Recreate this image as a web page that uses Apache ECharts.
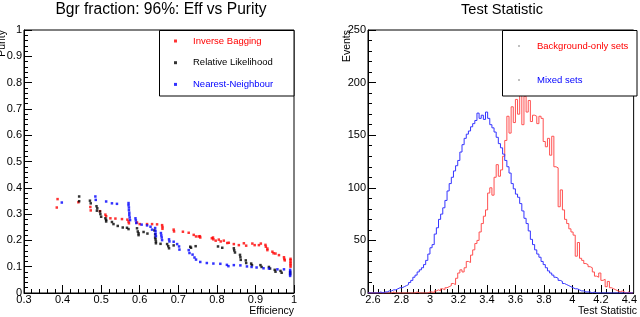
<!DOCTYPE html>
<html><head><meta charset="utf-8">
<script src="https://cdn.jsdelivr.net/npm/echarts@6/dist/echarts.min.js"></script>
<style>html,body{margin:0;padding:0;background:#fff}#c{width:640px;height:317px}</style>
</head><body><div id="c"></div>
<script>
const FONT = 'Liberation Sans, Arial, Helvetica, sans-serif';

// ---- Left panel: efficiency vs purity ----
const ibEff = [0.387,0.385,0.441,0.472,0.473,0.497,0.511,0.513,0.524,0.537,0.554,0.568,0.571,0.572,0.593,0.600,0.619,0.632,0.645,0.658,0.659,0.659,0.688,0.689,0.712,0.727,0.740,0.746,0.753,0.756,0.757,0.787,0.790,0.791,0.797,0.805,0.810,0.818,0.827,0.831,0.844,0.857,0.870,0.876,0.892,0.898,0.909,0.914,0.926,0.927,0.931,0.931,0.944,0.947,0.952,0.961,0.974,0.975,0.976,0.991,0.991,0.991,0.991,0.991,0.991];
const ibPur = [0.357,0.325,0.345,0.327,0.314,0.311,0.298,0.292,0.284,0.283,0.281,0.279,0.272,0.265,0.268,0.262,0.262,0.262,0.261,0.258,0.251,0.244,0.241,0.234,0.233,0.229,0.221,0.215,0.215,0.216,0.211,0.208,0.211,0.204,0.199,0.203,0.196,0.199,0.190,0.191,0.186,0.182,0.189,0.180,0.188,0.182,0.182,0.188,0.183,0.176,0.169,0.163,0.157,0.151,0.150,0.144,0.136,0.129,0.124,0.130,0.125,0.118,0.112,0.106,0.100];
const rlEff = [0.443,0.443,0.471,0.473,0.488,0.490,0.489,0.497,0.498,0.500,0.511,0.513,0.513,0.528,0.532,0.543,0.556,0.567,0.571,0.593,0.595,0.597,0.597,0.610,0.620,0.638,0.640,0.640,0.641,0.642,0.642,0.654,0.671,0.674,0.676,0.688,0.731,0.733,0.745,0.803,0.814,0.844,0.845,0.847,0.860,0.861,0.862,0.875,0.876,0.889,0.891,0.913,0.916,0.935,0.938,0.950,0.952,0.965,0.968,0.990,0.990];
const rlPur = [0.367,0.349,0.351,0.341,0.330,0.322,0.313,0.310,0.300,0.290,0.284,0.278,0.272,0.270,0.262,0.255,0.249,0.248,0.243,0.246,0.234,0.227,0.220,0.232,0.226,0.238,0.223,0.211,0.204,0.196,0.189,0.187,0.186,0.178,0.170,0.181,0.176,0.172,0.178,0.177,0.172,0.170,0.162,0.154,0.145,0.136,0.126,0.124,0.114,0.112,0.106,0.106,0.099,0.099,0.093,0.088,0.081,0.084,0.077,0.080,0.072];
const nnEff = [0.398,0.485,0.486,0.513,0.528,0.541,0.571,0.571,0.572,0.572,0.573,0.573,0.574,0.575,0.589,0.590,0.591,0.605,0.619,0.628,0.632,0.640,0.641,0.641,0.642,0.655,0.656,0.657,0.658,0.676,0.677,0.688,0.697,0.702,0.703,0.727,0.729,0.737,0.742,0.746,0.757,0.774,0.791,0.809,0.826,0.830,0.844,0.861,0.878,0.890,0.903,0.921,0.935,0.957,0.974,0.990,0.990,0.990,0.990];
const nnPur = [0.344,0.367,0.354,0.348,0.341,0.339,0.342,0.334,0.325,0.315,0.305,0.296,0.287,0.277,0.284,0.276,0.266,0.260,0.257,0.252,0.241,0.247,0.236,0.226,0.216,0.228,0.219,0.211,0.201,0.204,0.196,0.195,0.186,0.177,0.165,0.163,0.152,0.146,0.135,0.127,0.118,0.114,0.112,0.111,0.107,0.102,0.106,0.105,0.101,0.099,0.097,0.094,0.093,0.090,0.090,0.088,0.080,0.072,0.065];

// ---- Right panel: test statistic histograms ----
const binStart = 2.565;
const binWidth = 0.015;
const bgCounts = [
 0,0,0,0,0, 0,0,0,0,0, 0,1,0,0,0, 0,0,0,0,0, 0,0,1,0,0,
 0,0,0,1,1, 0,2,3,2,4, 3,5,6,7,9, 8,14,19,22,20, 24,30,29,36,41,
 47,50,58,66,73, 79,95,100,93,110, 122,111,117,130,145, 168,152,177,162,184,
 170,188,160,187,172, 183,163,169,168,161, 168,166,144,139,147, 131,149,120,119,82,
 98,79,70,66,61, 58,55,35,48,33, 31,28,27,25,24, 20,16,15,19,12,
 13,6,11,5,4, 3,2,1,2,1, 0,1,0,0];
const mixCounts = [
 0,0,0,0,0, 1,0,1,1,2, 2,3,3,4,5, 5,6,7,8,10, 12,15,17,20,22,
 24,27,31,37,43, 46,56,62,70,75, 81,88,97,104,110, 116,121,126,134,141, 147,151,154,158,161,
 164,171,166,169,165, 172,166,160,157,153, 148,142,138,132,126, 120,114,104,99,94,
 91,85,78,71,66, 59,51,46,41,37, 34,30,27,24,21, 19,17,15,14,12,
 11,9,8,7,6, 5,4,4,3,2, 2,1,1,1,0, 1,0,0,0,0,
 0,0,0,0,0, 0,0,0,0,0, 0,0,0,0];

// tick labels
const rightXTicks = [2.6,2.8,3,3.2,3.4,3.6,3.8,4,4.2,4.4];

const rightXMinor = [];
for (let i = 0; i < rightXTicks.length; i++) {
  for (let j = 1; j < 5; j++) {
    const v = +(rightXTicks[i] + j * 0.04).toFixed(3);
    if (v < 4.43) rightXMinor.push(v);
  }
}

function zip(a, b) { return a.map((v, i) => [v, b[i]]); }
function histSteps(counts) {
  const out = counts.map((c, i) => [+(binStart + i * binWidth).toFixed(4), c]);
  out.push([+(binStart + counts.length * binWidth).toFixed(4), counts[counts.length - 1]]);
  return out;
}

const tickLabel = { color: '#000', fontSize: 11, fontFamily: FONT };
const chart = echarts.init(document.getElementById('c'), null, { renderer: 'canvas' });
chart.setOption({
  animation: false,
  backgroundColor: '#fff',
  textStyle: { fontFamily: FONT },
  title: [
    { text: 'Bgr fraction: 96%: Eff vs Purity', left: 161, top: 2, textAlign: 'center', padding: 0,
      textStyle: { fontSize: 15.6, fontWeight: 'normal', color: '#000', fontFamily: FONT } },
    { text: 'Test Statistic', left: 502, top: 2, textAlign: 'center', padding: 0,
      textStyle: { fontSize: 14.6, fontWeight: 'normal', color: '#000', fontFamily: FONT } }
  ],
  grid: [
    { left: 24, right: 346, top: 30, bottom: 24, show: true, borderColor: '#000', borderWidth: 1, backgroundColor: 'transparent' },
    { left: 368, right: 3, top: 30, bottom: 24, show: true, borderColor: '#000', borderWidth: 1, backgroundColor: 'transparent' }
  ],
  xAxis: [
    { type: 'value', gridIndex: 0, min: 0.3, max: 1, interval: 0.1, position: 'bottom',
      axisLine: { onZero: false, lineStyle: { color: '#000' } },
      axisTick: { inside: true, length: 8, lineStyle: { color: '#000' } },
      minorTick: { show: true, splitNumber: 5, length: 4, lineStyle: { color: '#000' } },
      splitLine: { show: false },
      axisLabel: Object.assign({ margin: 1 }, tickLabel) },
    { type: 'value', gridIndex: 1, min: 2.565, max: 4.43, position: 'bottom',
      axisLine: { onZero: false, lineStyle: { color: '#000' } },
      axisTick: { inside: true, length: 8, customValues: rightXTicks, lineStyle: { color: '#000' } },
      splitLine: { show: false },
      axisLabel: Object.assign({ margin: 1, customValues: rightXTicks, showMaxLabel: true }, tickLabel) },
    { type: 'value', gridIndex: 1, min: 2.565, max: 4.43, position: 'bottom',
      axisLine: { show: false, onZero: false },
      axisTick: { inside: true, length: 4, customValues: rightXMinor, lineStyle: { color: '#000' } },
      splitLine: { show: false },
      axisLabel: { show: false } }
  ],
  yAxis: [
    { type: 'value', gridIndex: 0, min: 0, max: 1, interval: 0.1,
      axisLine: { show: true, onZero: false, lineStyle: { color: '#000' } },
      axisTick: { show: true, inside: true, length: 8, lineStyle: { color: '#000' } },
      minorTick: { show: true, splitNumber: 5, length: 4, lineStyle: { color: '#000' } },
      splitLine: { show: false },
      axisLabel: Object.assign({ margin: 2 }, tickLabel) },
    { type: 'value', gridIndex: 1, min: 0, max: 250, interval: 50,
      axisLine: { show: true, onZero: false, lineStyle: { color: '#000' } },
      axisTick: { show: true, inside: true, length: 8, lineStyle: { color: '#000' } },
      minorTick: { show: true, splitNumber: 5, length: 4, lineStyle: { color: '#000' } },
      splitLine: { show: false },
      axisLabel: Object.assign({ margin: 2 }, tickLabel) }
  ],
  legend: [
    { orient: 'vertical', left: 174, top: 35, padding: 0, itemGap: 9.7, itemWidth: 3, itemHeight: 3,
      selectedMode: false, align: 'left', z: 80,
      textStyle: { fontSize: 9.5, lineHeight: 12, fontFamily: FONT, padding: [0, 0, 0, 11] },
      data: [
        { name: 'Inverse Bagging', icon: 'rect', itemStyle: { color: '#ff0000' }, textStyle: { color: '#ff0000' } },
        { name: 'Relative Likelihood', icon: 'rect', itemStyle: { color: '#000000' }, textStyle: { color: '#000000' } },
        { name: 'Nearest-Neighbour', icon: 'rect', itemStyle: { color: '#0000ff' }, textStyle: { color: '#0000ff' } }
      ] },
    { orient: 'vertical', left: 518, top: 40, padding: 0, itemGap: 22, itemWidth: 2, itemHeight: 2,
      selectedMode: false, align: 'left', z: 80,
      textStyle: { fontSize: 9.5, lineHeight: 12, fontFamily: FONT, padding: [0, 0, 0, 12] },
      data: [
        { name: 'Background-only sets', icon: 'rect', itemStyle: { color: '#c0c0c0' }, textStyle: { color: '#ff0000' } },
        { name: 'Mixed sets', icon: 'rect', itemStyle: { color: '#c0c0c0' }, textStyle: { color: '#0000ff' } }
      ] }
  ],
  graphic: [
    { type: 'rect', z: 50, shape: { x: 159.5, y: 30.5, width: 134.5, height: 65.5 },
      style: { fill: '#fff', stroke: '#000', lineWidth: 1 } },
    { type: 'rect', z: 50, shape: { x: 502.5, y: 30.5, width: 134.5, height: 65.5 },
      style: { fill: '#fff', stroke: '#000', lineWidth: 1 } },
    { type: 'text', x: 8, y: 30, rotation: Math.PI / 2, z: 60,
      style: { text: 'Purity', textAlign: 'right', textVerticalAlign: 'bottom', verticalAlign: 'bottom', fontSize: 10.5, fontFamily: FONT, fill: '#000' } },
    { type: 'text', x: 353, y: 30, rotation: Math.PI / 2, z: 60,
      style: { text: 'Events', textAlign: 'right', textVerticalAlign: 'bottom', verticalAlign: 'bottom', fontSize: 10.5, fontFamily: FONT, fill: '#000' } },
    { type: 'text', x: 294, y: 311, z: 60,
      style: { text: 'Efficiency', textAlign: 'right', textVerticalAlign: 'middle', verticalAlign: 'middle', fontSize: 10.5, fontFamily: FONT, fill: '#000' } },
    { type: 'text', x: 637, y: 311, z: 60,
      style: { text: 'Test Statistic', textAlign: 'right', textVerticalAlign: 'middle', verticalAlign: 'middle', fontSize: 10.5, fontFamily: FONT, fill: '#000' } }
  ],
  series: [
    { name: 'Inverse Bagging', type: 'scatter', xAxisIndex: 0, yAxisIndex: 0, symbol: 'rect', symbolSize: 2.5,
      itemStyle: { color: '#ff0000' }, data: zip(ibEff, ibPur) },
    { name: 'Relative Likelihood', type: 'scatter', xAxisIndex: 0, yAxisIndex: 0, symbol: 'rect', symbolSize: 2.5,
      itemStyle: { color: '#000000' }, data: zip(rlEff, rlPur) },
    { name: 'Nearest-Neighbour', type: 'scatter', xAxisIndex: 0, yAxisIndex: 0, symbol: 'rect', symbolSize: 2.5,
      itemStyle: { color: '#0000ff' }, data: zip(nnEff, nnPur) },
    { name: 'Background-only sets', type: 'line', xAxisIndex: 1, yAxisIndex: 1, step: 'end', showSymbol: false,
      lineStyle: { color: '#ff5050', width: 1 }, itemStyle: { color: '#ff5050' }, data: histSteps(bgCounts) },
    { name: 'Mixed sets', type: 'line', xAxisIndex: 1, yAxisIndex: 1, step: 'end', showSymbol: false,
      lineStyle: { color: '#3535ff', width: 1 }, itemStyle: { color: '#3535ff' }, data: histSteps(mixCounts) }
  ]
});
</script>
</body></html>
